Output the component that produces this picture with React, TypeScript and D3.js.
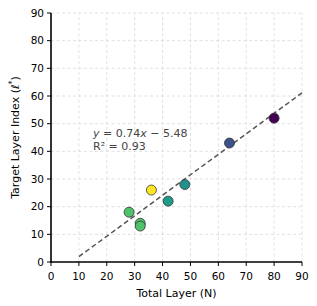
import * as d3 from "d3";

// layer counts and chosen target layers
const totalLayers = [28, 32, 32, 36, 42, 48, 64, 80];
const targetLayers = [18, 14, 13, 26, 22, 28, 43, 52];
// position on the viridis ramp for each point
const colorValues = [0.72, 0.72, 0.72, 1.0, 0.55, 0.5, 0.25, 0.0];

const xTicks = [0, 10, 20, 30, 40, 50, 60, 70, 80, 90];
const yTicks = [0, 10, 20, 30, 40, 50, 60, 70, 80, 90];

const slope = 0.74;
const intercept = -5.48;
const fitRange = [10, 90];

const W = 317;
const H = 306;
const margin = { top: 13, right: 15, bottom: 44, left: 51 };

export default function App() {
  const x = d3.scaleLinear().domain([0, 90]).range([margin.left, W - margin.right]);
  const y = d3.scaleLinear().domain([0, 90]).range([H - margin.bottom, margin.top]);

  const fitLine = d3
    .line<number>()
    .x((d) => x(d))
    .y((d) => y(slope * d + intercept));

  const font = "DejaVu Sans, sans-serif";

  return (
    <svg
      width={W}
      height={H}
      style={{ position: "absolute", left: 0, top: 0, background: "#fff" }}
      fontFamily={font}
    >
      {/* grid */}
      <g stroke="#d9d9d9" strokeWidth={0.8} strokeDasharray="3,2.5">
        {xTicks.slice(1).map((t) => (
          <line key={"gx" + t} x1={x(t)} x2={x(t)} y1={y(0)} y2={y(90)} />
        ))}
        {yTicks.slice(1).map((t) => (
          <line key={"gy" + t} x1={x(0)} x2={x(90)} y1={y(t)} y2={y(t)} />
        ))}
      </g>

      {/* fit line */}
      <path
        d={fitLine(fitRange) || ""}
        fill="none"
        stroke="#555"
        strokeWidth={1.5}
        strokeDasharray="5,3"
      />

      {/* points */}
      {totalLayers.map((n, i) => (
        <circle
          key={i}
          cx={x(n)}
          cy={y(targetLayers[i])}
          r={5}
          fill={d3.interpolateViridis(colorValues[i])}
          stroke="#333"
          strokeWidth={0.8}
        />
      ))}

      {/* annotation */}
      <text x={93} y={137} fontSize={11} fill="#444">
        <tspan fontStyle="italic">y</tspan>
        <tspan> = 0.74</tspan>
        <tspan fontStyle="italic">x</tspan>
        <tspan> − 5.48</tspan>
      </text>
      <text x={93} y={150} fontSize={11} fill="#444">
        R² = 0.93
      </text>

      {/* spines */}
      <line x1={x(0)} x2={x(0)} y1={y(0) + 0.8} y2={y(90)} stroke="#000" strokeWidth={1.6} />
      <line x1={x(0) - 0.8} x2={x(90)} y1={y(0)} y2={y(0)} stroke="#000" strokeWidth={1.6} />

      {/* x axis ticks */}
      {xTicks.map((t) => (
        <g key={"xt" + t}>
          <line x1={x(t)} x2={x(t)} y1={y(0)} y2={y(0) + 4} stroke="#000" strokeWidth={1} />
          <text x={x(t)} y={y(0) + 18} fontSize={10.5} textAnchor="middle" fill="#000">
            {t}
          </text>
        </g>
      ))}

      {/* y axis ticks */}
      {yTicks.map((t) => (
        <g key={"yt" + t}>
          <line x1={x(0) - 4} x2={x(0)} y1={y(t)} y2={y(t)} stroke="#000" strokeWidth={1} />
          <text x={x(0) - 7} y={y(t) + 3.8} fontSize={10.5} textAnchor="end" fill="#000">
            {t}
          </text>
        </g>
      ))}

      {/* axis labels */}
      <text
        x={(x(0) + x(90)) / 2}
        y={H - 9}
        fontSize={11}
        textAnchor="middle"
        fill="#000"
      >
        Total Layer (N)
      </text>
      <text
        transform={`translate(19,${(y(0) + y(90)) / 2}) rotate(-90)`}
        fontSize={11}
        textAnchor="middle"
        fill="#000"
      >
        Target Layer Index (<tspan fontStyle="italic">ℓ</tspan>
        <tspan dy={-4} fontSize={8}>*</tspan>
        <tspan dy={4}>)</tspan>
      </text>
    </svg>
  );
}
